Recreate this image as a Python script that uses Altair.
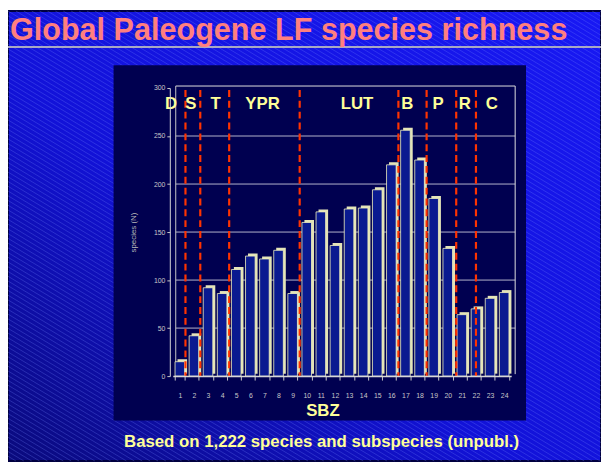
import altair as alt
import pandas as pd
import numpy as np

# ---------------- data ----------------
sbz = list(range(1, 25))
species = [15, 42, 92, 86, 111, 125, 122, 131, 86, 160, 171, 136,
           174, 175, 194, 220, 256, 225, 185, 133, 64, 70, 81, 87]

stage_names = ["D", "S", "T", "YPR", "LUT", "B", "P", "R", "C"]
stage_pos = [0.38, 1.78, 3.53, 6.87, 13.56, 17.13, 19.32, 21.21, 23.12]
boundaries = [1.4, 2.45, 4.5, 9.5, 16.5, 18.5, 20.6, 22.0]
y_ticks = [0, 50, 100, 150, 200, 250, 300]
grid_levels = [50, 100, 150, 200, 250]

title_text = "Global Paleogene LF species richness"
footer_text = "Based on 1,222 species and subspecies (unpubl.)"
x_title = "SBZ"
y_title = "species (N)"

FONT = "Liberation Sans"

# ---------------- layout ----------------
W, H = 343, 292
PAD_L, PAD_T, PAD_R, PAD_B = 167, 78, 91, 86
LEFT, RIGHT = -PAD_L, W + PAD_R
TOP, BOTTOM = -PAD_T, H + PAD_B

df = pd.DataFrame({"sbz": sbz, "species": species})
stages = pd.DataFrame({"name": stage_names, "pos": stage_pos})
bounds = pd.DataFrame({"b": boundaries})
grid = pd.DataFrame({"v": grid_levels})
one = pd.DataFrame({"d": [0]})

# background hatch (decoration)
slope = 0.6
span = (BOTTOM - TOP) / slope
x0 = np.arange(LEFT - span, RIGHT + 10, 8.0)
hatch = pd.DataFrame({"x0": x0, "x1": x0 + span, "y0": TOP, "y1": BOTTOM})

yscale = alt.Scale(domain=[0, 300], nice=False, zero=True)
qx = alt.Scale(domain=[0.5, 24.5], nice=False, zero=False)
band = alt.Scale(paddingInner=0.32, paddingOuter=0.16)

gradient = alt.LinearGradient(
    gradient="linear",
    stops=[alt.GradientStop(color="#0a0a7c", offset=0),
           alt.GradientStop(color="#1212d8", offset=0.42),
           alt.GradientStop(color="#1818f4", offset=1)],
    x1=0, y1=1, x2=1, y2=0,
)

bg = alt.Chart(one).mark_rect(fill=gradient, stroke="#000040", strokeWidth=2).encode(
    x=alt.value(LEFT), x2=alt.value(RIGHT), y=alt.value(TOP), y2=alt.value(BOTTOM))

hatch_layer = alt.Chart(hatch).mark_rule(color="#7888ff", opacity=0.28, strokeWidth=1).encode(
    x=alt.X("x0:Q", scale=None), x2="x1:Q",
    y=alt.Y("y0:Q", scale=None), y2="y1:Q")

underline = alt.Chart(one).mark_rule(color="#a8a8c4", strokeWidth=2).encode(
    x=alt.value(LEFT - 3), x2=alt.value(RIGHT), y=alt.value(-41.5))

title = alt.Chart(one).mark_text(
    text=title_text, font=FONT, fontSize=31, fontWeight="bold", color="#FF7F7F",
    align="left", baseline="alphabetic").encode(x=alt.value(-165), y=alt.value(-49))

panel = alt.Chart(one).mark_rect(fill="#000050").encode(
    x=alt.value(-60), x2=alt.value(358), y=alt.value(-23), y2=alt.value(337))

gridlines = alt.Chart(grid).mark_rule(color="#b4b4cc", strokeWidth=1).encode(
    y=alt.Y("v:Q", scale=yscale, axis=None), x=alt.value(3), x2=alt.value(347))

frame_top = alt.Chart(one).mark_rule(color="#e0e0e0", strokeWidth=1).encode(
    x=alt.value(3), x2=alt.value(347), y=alt.value(-2))
frame_right = alt.Chart(one).mark_rule(color="#e0e0e0", strokeWidth=1).encode(
    x=alt.value(347), y=alt.value(-2), y2=alt.value(290))
frame_left = alt.Chart(one).mark_rule(color="#c8c8c8", strokeWidth=1).encode(
    x=alt.value(3), y=alt.value(-2), y2=alt.value(290))

side = alt.Chart(df).mark_bar(xOffset=2.5, yOffset=-2.5, color="#e4e4b8").encode(
    x=alt.X("sbz:O", scale=band, axis=None),
    y=alt.Y("species:Q", scale=yscale, axis=None))

xaxis = alt.Axis(labelAngle=0, labelFont=FONT, labelFontSize=7, labelColor="#c8c8c8",
                 tickBand="extent", tickColor="#c8c8c8", tickSize=4,
                 domainColor="#d8d8d8", domainWidth=1.5, labelPadding=12,
                 title=x_title, titleColor="#FFFF99", titleFont=FONT, titleFontSize=17,
                 titleFontWeight="bold", titleX=151.7, titleY=34.7,
                 titleBaseline="middle", grid=False, zindex=1)
yaxis = alt.Axis(values=y_ticks, labelFont=FONT, labelFontSize=7, labelColor="#c8c8c8",
                 tickColor="#c8c8c8", tickSize=3, offset=3, labelPadding=2,
                 domainColor="#d8d8d8", title=y_title, titleFont=FONT, titleFontSize=8,
                 titleFontWeight="normal", titleColor="#b8b8b8", titleX=-37, titleY=146,
                 titleAlign="center", titleBaseline="middle", grid=False, zindex=1)

front = alt.Chart(df).mark_bar(fill="#0a1a90", stroke="#f4f4c0", strokeWidth=0.8).encode(
    x=alt.X("sbz:O", scale=band, axis=xaxis),
    y=alt.Y("species:Q", scale=yscale, axis=yaxis))

dashes = alt.Chart(bounds).mark_rule(color="#FF3300", strokeDash=[7, 4], strokeWidth=2.2).encode(
    x=alt.X("b:Q", scale=qx, axis=None), y=alt.value(2), y2=alt.value(292))

stage_text = alt.Chart(stages).mark_text(
    font=FONT, fontSize=17, fontWeight="bold", color="#FFFF99",
    align="center", baseline="middle").encode(
    x=alt.X("pos:Q", scale=qx, axis=None), y=alt.value(16.7), text="name:N")

footer = alt.Chart(one).mark_text(
    text=footer_text, font=FONT, fontSize=17, fontWeight="bold", color="#FFFF99",
    align="center", baseline="middle").encode(x=alt.value(150.8), y=alt.value(359))

chart = alt.layer(
    bg, hatch_layer, underline, title, panel, gridlines,
    frame_top, frame_right, frame_left, side, front, dashes, stage_text, footer
).resolve_scale(x="independent", y="independent").properties(
    width=W, height=H, autosize="none",
    padding={"left": PAD_L, "top": PAD_T, "right": PAD_R, "bottom": PAD_B},
    background="#ffffff",
).configure_view(strokeWidth=0)

chart.save("out.html", embed_options={"renderer": "svg", "actions": False})
